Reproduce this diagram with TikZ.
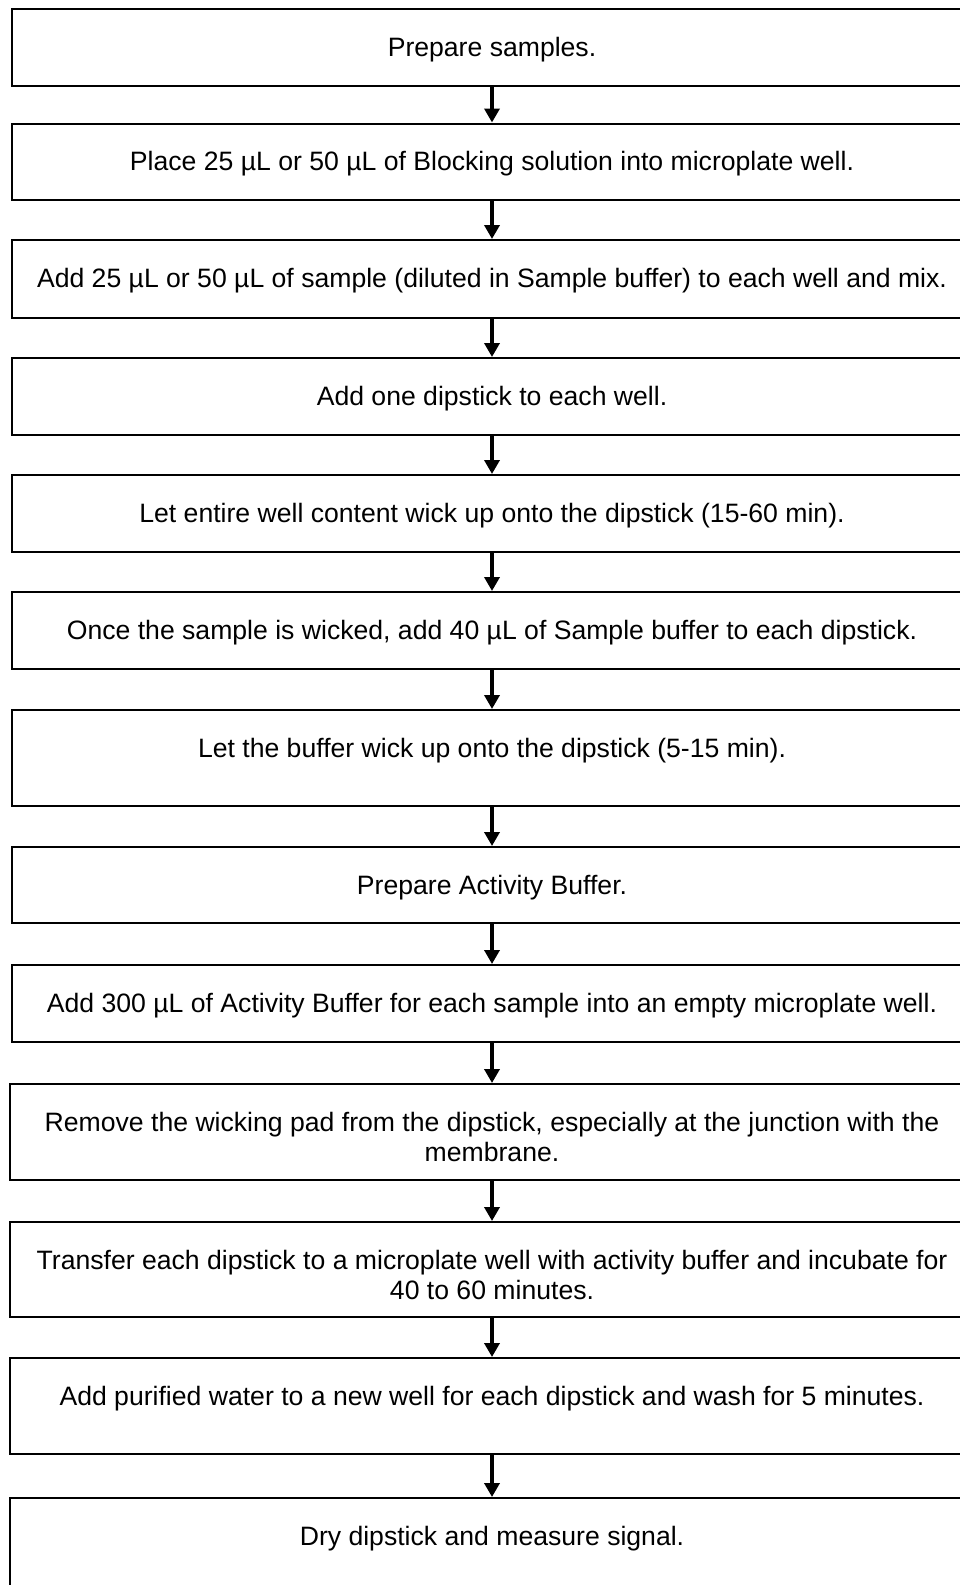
\documentclass[tikz,border=0pt]{standalone}
\usepackage{fontspec}
\setmainfont{Liberation Sans}
\usetikzlibrary{arrows.meta}
\tikzset{
  stepbox/.style={draw=black, line width=2pt, rectangle, inner sep=0pt, fill=white},
  steptext/.style={anchor=north, inner sep=0pt, align=center, font=\fontsize{26.6}{30.6}\selectfont},
  flowarrow/.style={draw=black, line width=3.5pt, -{Triangle[width=15pt,length=14pt]}}
}
\begin{document}
\begin{tikzpicture}[x=1pt,y=-1pt]
\useasboundingbox (0,0) rectangle (960,1585);
\fill[white] (0,0) rectangle (960,1585);
\clip (0,0) rectangle (960,1585);
% boxes: centre y = (top+bottom)/2, height = bottom-top
\node[stepbox, minimum width=963pt, minimum height=77pt] (b1) at (493.5,47.5) {};
\node[stepbox, minimum width=963pt, minimum height=76.5pt] (b2) at (493.5,161.75) {};
\node[stepbox, minimum width=963pt, minimum height=78pt] (b3) at (493.5,279) {};
\node[stepbox, minimum width=963pt, minimum height=77pt] (b4) at (493.5,396.5) {};
\node[stepbox, minimum width=963pt, minimum height=77pt] (b5) at (493.5,513.5) {};
\node[stepbox, minimum width=963pt, minimum height=77pt] (b6) at (493.5,630.5) {};
\node[stepbox, minimum width=963pt, minimum height=96pt] (b7) at (493.5,758) {};
\node[stepbox, minimum width=963pt, minimum height=76pt] (b8) at (493.5,885) {};
\node[stepbox, minimum width=963pt, minimum height=77pt] (b9) at (493.5,1003.5) {};
\node[stepbox, minimum width=965pt, minimum height=96pt] (b10) at (492.5,1132) {};
\node[stepbox, minimum width=965pt, minimum height=95pt] (b11) at (492.5,1269.5) {};
\node[stepbox, minimum width=965pt, minimum height=96pt] (b12) at (492.5,1406) {};
\node[stepbox, minimum width=965pt, minimum height=110pt] (b13) at (492.5,1553) {};
% texts: north = top + 25.6 (baseline about 47 below the box top)
\node[steptext] (t1) at (492,34.6) {\strut Prepare samples.};
\node[steptext] (t2) at (492,149.1) {\strut Place 25 µL or 50 µL of Blocking solution into microplate well.};
\node[steptext] (t3) at (492,265.6) {\strut Add 25 µL or 50 µL of sample (diluted in Sample buffer) to each well and mix.};
\node[steptext] (t4) at (492,383.6) {\strut Add one dipstick to each well.};
\node[steptext] (t5) at (492,500.6) {\strut Let entire well content wick up onto the dipstick (15-60 min).};
\node[steptext] (t6) at (492,617.6) {\strut Once the sample is wicked, add 40 µL of Sample buffer to each dipstick.};
\node[steptext] (t7) at (492,735.6) {\strut Let the buffer wick up onto the dipstick (5-15 min).};
\node[steptext] (t8) at (492,872.6) {\strut Prepare Activity Buffer.};
\node[steptext] (t9) at (492,990.6) {\strut Add 300 µL of Activity Buffer for each sample into an empty microplate well.};
\node[steptext] (t10) at (492,1109.6) {\strut Remove the wicking pad from the dipstick, especially at the junction with the\\membrane.};
\node[steptext] (t11) at (492,1247.6) {\strut Transfer each dipstick to a microplate well with activity buffer and incubate for\\40 to 60 minutes.};
\node[steptext] (t12) at (492,1383.6) {\strut Add purified water to a new well for each dipstick and wash for 5 minutes.};
\node[steptext] (t13) at (492,1523.6) {\strut Dry dipstick and measure signal.};
% arrows
\draw[flowarrow] (b1.south -| t1.north) -- (b2.north -| t1.north);
\draw[flowarrow] (b2.south -| t1.north) -- (b3.north -| t1.north);
\draw[flowarrow] (b3.south -| t1.north) -- (b4.north -| t1.north);
\draw[flowarrow] (b4.south -| t1.north) -- (b5.north -| t1.north);
\draw[flowarrow] (b5.south -| t1.north) -- (b6.north -| t1.north);
\draw[flowarrow] (b6.south -| t1.north) -- (b7.north -| t1.north);
\draw[flowarrow] (b7.south -| t1.north) -- (b8.north -| t1.north);
\draw[flowarrow] (b8.south -| t1.north) -- (b9.north -| t1.north);
\draw[flowarrow] (b9.south -| t1.north) -- (b10.north -| t1.north);
\draw[flowarrow] (b10.south -| t1.north) -- (b11.north -| t1.north);
\draw[flowarrow] (b11.south -| t1.north) -- (b12.north -| t1.north);
\draw[flowarrow] (b12.south -| t1.north) -- (b13.north -| t1.north);
\end{tikzpicture}
\end{document}
